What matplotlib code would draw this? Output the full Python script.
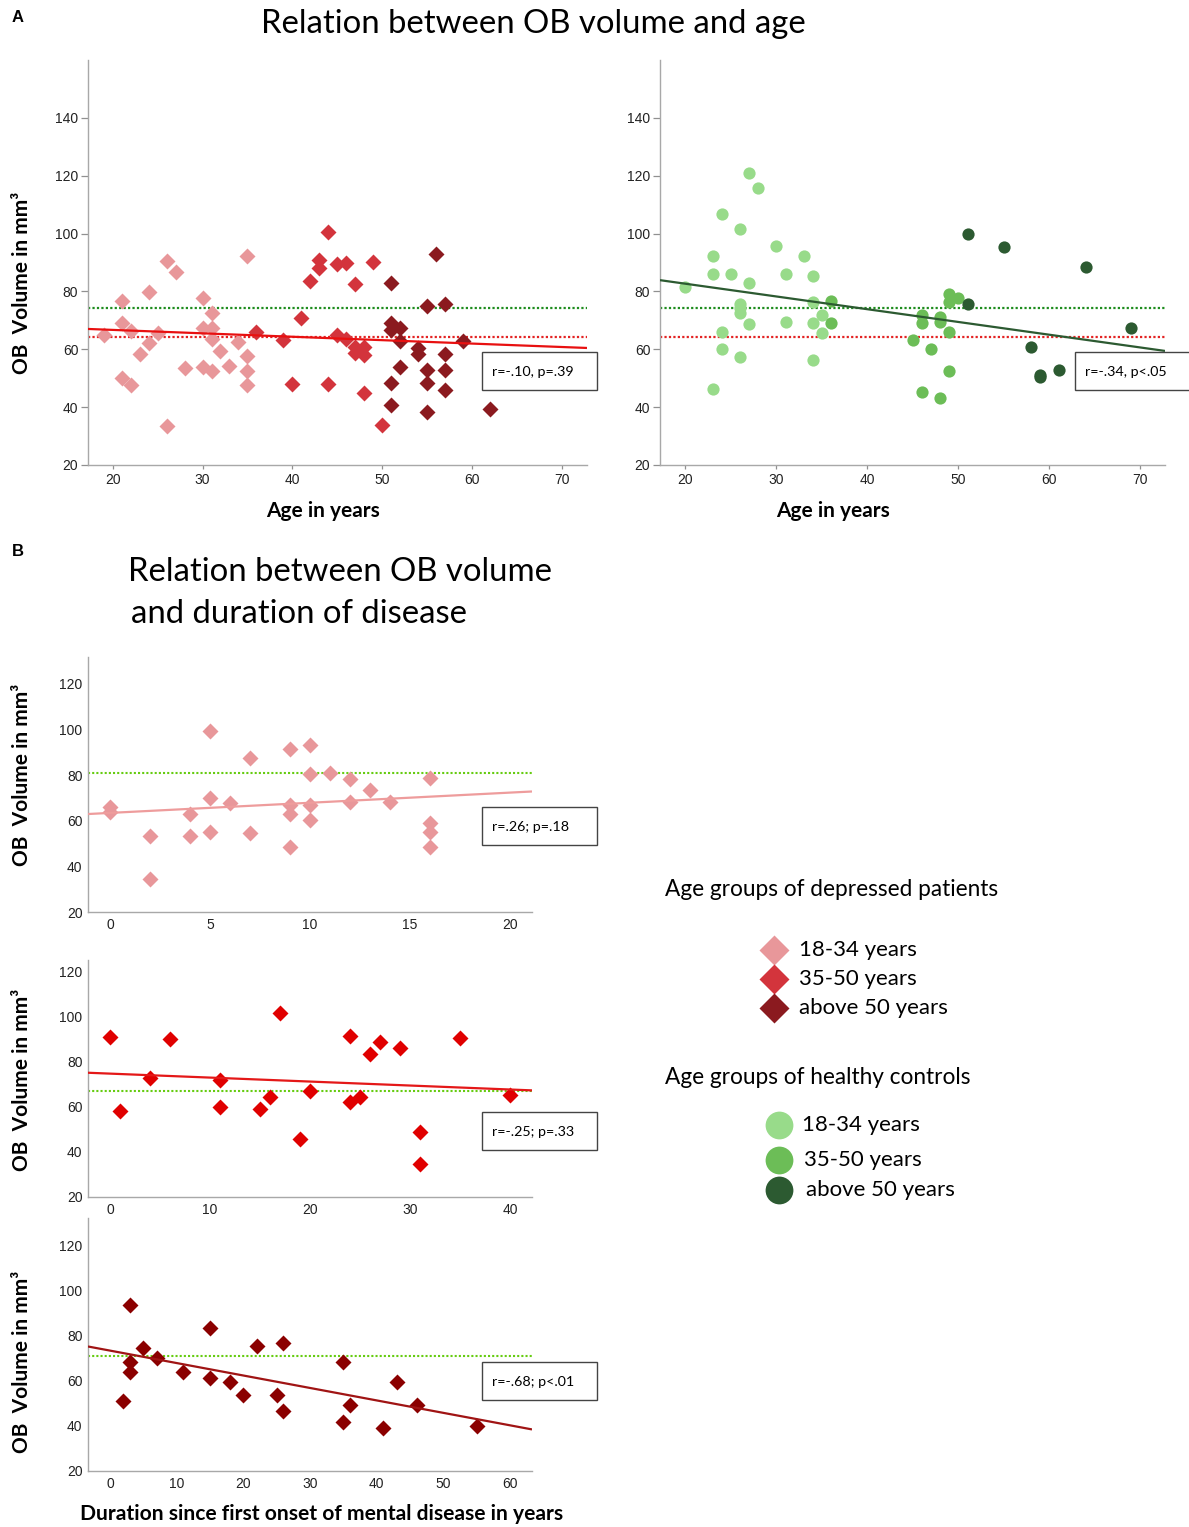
import numpy as np
import matplotlib
matplotlib.use("Agg")
import matplotlib.pyplot as plt
from matplotlib.patches import Rectangle

# ---------------- data ----------------
# Panel A left: depressed patients, age vs OB volume
pat_young_age = [19, 21, 21, 22, 21, 22, 23, 24, 24, 25, 26, 26, 27, 28, 30, 30, 30, 31, 31, 31, 31, 32, 33, 34, 35, 35, 35, 35]
pat_young_vol = [64.9, 76.8, 69.1, 66.2, 50.1, 47.5, 58.5, 79.9, 62.1, 65.7, 90.6, 33.4, 86.6, 53.6, 77.8, 67.5, 53.9, 72.6, 67.4, 63.5, 52.4, 59.4, 54.1, 62.5, 92.4, 57.7, 52.4, 47.5]
pat_mid_age = [36, 39, 40, 41, 42, 43, 43, 44, 44, 45, 45, 46, 46, 47, 47, 47, 48, 48, 48, 49, 50]
pat_mid_vol = [66.0, 63.1, 47.9, 70.9, 83.6, 90.9, 88.0, 100.7, 47.9, 89.4, 64.9, 89.7, 63.7, 82.4, 60.8, 58.8, 60.8, 57.9, 44.9, 90.3, 33.9]
pat_old_age = [51, 51, 51, 51, 51, 52, 52, 52, 54, 54, 55, 55, 55, 55, 56, 57, 57, 57, 57, 59, 62]
pat_old_vol = [82.8, 69.2, 66.8, 48.4, 40.8, 67.4, 62.9, 53.9, 60.5, 58.5, 74.9, 52.9, 48.4, 38.3, 92.8, 75.8, 58.3, 52.9, 45.8, 62.9, 39.2]

# Panel A right: healthy controls
ctl_young_age = [20, 23, 23, 23, 24, 24, 24, 25, 26, 26, 26, 26, 26, 27, 27, 27, 28, 30, 31, 31, 33, 34, 34, 34, 34, 35, 35]
ctl_young_vol = [81.4, 92.4, 85.9, 46.1, 106.8, 66.0, 60.2, 85.9, 101.6, 75.7, 74.1, 72.7, 57.2, 121.0, 82.8, 68.6, 115.7, 95.8, 85.9, 69.5, 92.4, 85.4, 76.4, 69.0, 56.3, 71.8, 65.8]
ctl_mid_age = [36, 36, 45, 46, 46, 46, 47, 48, 48, 48, 49, 49, 49, 49, 50]
ctl_mid_vol = [76.6, 69.0, 63.2, 71.8, 69.0, 45.2, 60.2, 71.1, 69.5, 43.1, 79.2, 76.4, 66.0, 52.4, 77.9]
ctl_old_age = [51, 51, 55, 58, 59, 59, 61, 64, 69]
ctl_old_vol = [99.9, 75.8, 95.5, 60.7, 51.0, 50.5, 52.8, 88.3, 67.3]

# group means (dotted reference lines)
mean_controls_all = 74.3
mean_patients_all = 64.3

# Panel B: duration of disease vs OB volume per age group
b1_dur = [0, 0, 2, 2, 4, 4, 5, 5, 5, 6, 7, 7, 9, 9, 9, 9, 10, 10, 10, 10, 11, 12, 12, 13, 14, 16, 16, 16, 16]
b1_vol = [66.2, 64.0, 53.4, 34.4, 63.0, 53.4, 99.5, 70.1, 54.9, 67.9, 87.4, 54.6, 91.4, 66.8, 63.1, 48.6, 93.3, 80.6, 66.8, 60.5, 80.9, 78.4, 68.4, 73.5, 68.4, 78.9, 58.9, 54.9, 48.6]
b2_dur = [0, 1, 4, 6, 11, 11, 15, 16, 17, 19, 20, 24, 24, 25, 26, 27, 29, 31, 31, 35, 40]
b2_vol = [91.1, 58.0, 72.8, 90.2, 71.9, 59.8, 58.9, 64.4, 101.8, 45.8, 67.2, 91.7, 62.0, 64.5, 83.4, 89.0, 86.3, 48.8, 34.8, 90.6, 65.5]
b3_dur = [2, 3, 3, 3, 5, 7, 11, 15, 15, 18, 20, 22, 25, 26, 26, 35, 35, 36, 41, 43, 46, 55]
b3_vol = [51.1, 93.8, 68.3, 63.9, 74.8, 70.1, 64.0, 83.7, 61.2, 59.7, 53.8, 75.7, 53.8, 76.7, 46.7, 68.3, 41.6, 49.3, 39.3, 59.4, 49.3, 40.1]
b_ctl_means = [80.9, 67.0, 71.1]

stats_text = ["r=-.10, p=.39", "r=-.34, p<.05", "r=.26; p=.18", "r=-.25; p=.33", "r=-.68; p<.01"]
legend_labels = ["18-34 years", "35-50 years", "above 50 years"]

# ---------------- style ----------------
W, H = 1189, 1527
fig = plt.figure(figsize=(W / 100, H / 100), dpi=100)
TXT = ['Lato', 'DejaVu Sans']
NUM = ['Liberation Sans', 'DejaVu Sans']

c_pink, c_red, c_dred = '#E8979A', '#D3343C', '#8B1A1F'
c_lg, c_mg, c_dg = '#98DB8A', '#6CBD57', '#2C5A31'


def px_axes(l, r, t, b):
    return fig.add_axes([l / W, 1 - b / H, (r - l) / W, (b - t) / H])


def style(ax, xlim, ylim, xticks, yticks, marks=True):
    ax.set_xlim(*xlim)
    ax.set_ylim(*ylim)
    ax.set_xticks(xticks)
    ax.set_yticks(yticks)
    for s in ['top', 'right']:
        ax.spines[s].set_visible(False)
    for s in ['left', 'bottom']:
        ax.spines[s].set_color('#a8a8a8')
        ax.spines[s].set_linewidth(1.0)
    if marks:
        ax.tick_params(axis='y', length=5, width=0.9, color='#909090', pad=2)
        ax.tick_params(axis='x', length=3, width=0.9, color='#909090', pad=3)
    else:
        ax.tick_params(axis='both', length=0, pad=4)
    for lab in ax.get_xticklabels() + ax.get_yticklabels():
        lab.set_fontfamily(NUM)
        lab.set_fontsize(10)
        lab.set_color('#222222')


def fitline(ax, x, y, color, lw=1.6):
    x = np.asarray(x, float)
    y = np.asarray(y, float)
    k, d = np.polyfit(x, y, 1)
    xs = np.array(ax.get_xlim())
    ax.plot(xs, k * xs + d, color=color, lw=lw, zorder=4, solid_capstyle='butt')


def hline(ax, y, color, lw=1.6):
    ax.axhline(y, color=color, lw=lw, ls=(0, (1, 1)), zorder=2)


ms_d = 8.2
# ---- A left
axA1 = px_axes(88, 587, 60, 465)
style(axA1, (17.25, 72.8), (20, 160), range(20, 71, 10), range(20, 141, 20))
hline(axA1, mean_controls_all, '#1E8C1E')
hline(axA1, mean_patients_all, '#E32222')
for a, v, c in [(pat_young_age, pat_young_vol, c_pink), (pat_mid_age, pat_mid_vol, c_red), (pat_old_age, pat_old_vol, c_dred)]:
    axA1.plot(a, v, 'D', color=c, ms=ms_d, mec='none', zorder=3, clip_on=False)
fitline(axA1, pat_young_age + pat_mid_age + pat_old_age, pat_young_vol + pat_mid_vol + pat_old_vol, '#E81010')

# ---- A right
axA2 = px_axes(660, 1165, 60, 465)
style(axA2, (17.2, 72.7), (20, 160), range(20, 71, 10), range(20, 141, 20))
hline(axA2, mean_controls_all, '#1E8C1E')
hline(axA2, mean_patients_all, '#E32222')
for a, v, c in [(ctl_young_age, ctl_young_vol, c_lg), (ctl_mid_age, ctl_mid_vol, c_mg), (ctl_old_age, ctl_old_vol, c_dg)]:
    axA2.plot(a, v, 'o', color=c, ms=8.8, mec='none', zorder=3, clip_on=False)
fitline(axA2, ctl_young_age + ctl_mid_age + ctl_old_age, ctl_young_vol + ctl_mid_vol + ctl_old_vol, '#2C5A31')

# ---- B panels
b_specs = [
    (b1_dur, b1_vol, c_pink, '#EE9C9C', 657, 912, (-1.11, 21.1), (20, 131.8), range(0, 21, 5)),
    (b2_dur, b2_vol, '#E00000', '#E41818', 960, 1197, (-2.2, 42.2), (20, 125.3), range(0, 41, 10)),
    (b3_dur, b3_vol, '#8B0000', '#A01414', 1218, 1471, (-3.3, 63.3), (20, 132.4), range(0, 61, 10)),
]
b_axes = []
for i, (d, v, mc, lc, t, b, xl, yl, xt) in enumerate(b_specs):
    ax = px_axes(88, 532, t, b)
    style(ax, xl, yl, xt, range(20, 121, 20), marks=False)
    hline(ax, b_ctl_means[i], '#66CC11', lw=1.5)
    ax.plot(d, v, 'D', color=mc, ms=8.2, mec='none', zorder=3, clip_on=False)
    fitline(ax, d, v, lc)
    b_axes.append(ax)

# ---------------- overlay for texts/boxes/legend ----------------
ov = fig.add_axes([0, 0, 1, 1], zorder=10)
ov.set_xlim(0, W)
ov.set_ylim(H, 0)
ov.axis('off')
ov.patch.set_alpha(0)

ov.text(12, 18, 'A', fontsize=12, fontweight='bold', family=NUM, va='center', ha='left')
ov.text(12, 552, 'B', fontsize=12, fontweight='bold', family=NUM, va='center', ha='left')
ov.text(533, 24, 'Relation between OB volume and age', fontsize=23.7, family=TXT, ha='center', va='center')
ov.text(128, 572, 'Relation between OB volume', fontsize=23.7, family=TXT, ha='left', va='center')
ov.text(131, 614, 'and duration of disease', fontsize=23.7, family=TXT, ha='left', va='center')

ylab = 'OB  Volume in mm³'
for yc in [283, 775, 1080, 1362]:
    ov.text(22, yc, ylab, fontsize=15, fontweight='bold', family=TXT, rotation=90, ha='center', va='center')
ov.text(323, 511, 'Age in years', fontsize=15, fontweight='bold', family=TXT, ha='center', va='center')
ov.text(833, 511, 'Age in years', fontsize=15, fontweight='bold', family=TXT, ha='center', va='center')
ov.text(322, 1514, 'Duration since first onset of mental disease in years', fontsize=15.1, fontweight='bold',
        family=TXT, ha='center', va='center')

boxes = [(482, 352), (1075, 352), (482, 807), (482, 1112), (482, 1362)]
for (bx, by), s in zip(boxes, stats_text):
    ov.add_patch(Rectangle((bx, by), 115, 38, facecolor='white', edgecolor='#444444', lw=1.0, zorder=5))
    ov.text(bx + 10, by + 20, s, fontsize=10.3, family=TXT, ha='left', va='center', zorder=6)

# legends
ov.text(665, 890, 'Age groups of depressed patients', fontsize=16.3, family=TXT, ha='left', va='center')
ov.text(665, 1078, 'Age groups of healthy controls', fontsize=16.3, family=TXT, ha='left', va='center')
for y, c, lab in zip([950, 979, 1008], [c_pink, c_red, c_dred], legend_labels):
    ov.plot([774], [y], 'D', color=c, ms=15.5, mec='none', zorder=5)
    ov.text(799, y, lab, fontsize=16, family=TXT, ha='left', va='center')
for y, c, lab, tx in zip([1125, 1160, 1190], [c_lg, c_mg, c_dg], legend_labels, [802, 804, 806]):
    ov.plot([779], [y], 'o', color=c, ms=20, mec='none', zorder=5)
    ov.text(tx, y, lab, fontsize=16, family=TXT, ha='left', va='center')

fig.savefig('out.png', dpi=100)
